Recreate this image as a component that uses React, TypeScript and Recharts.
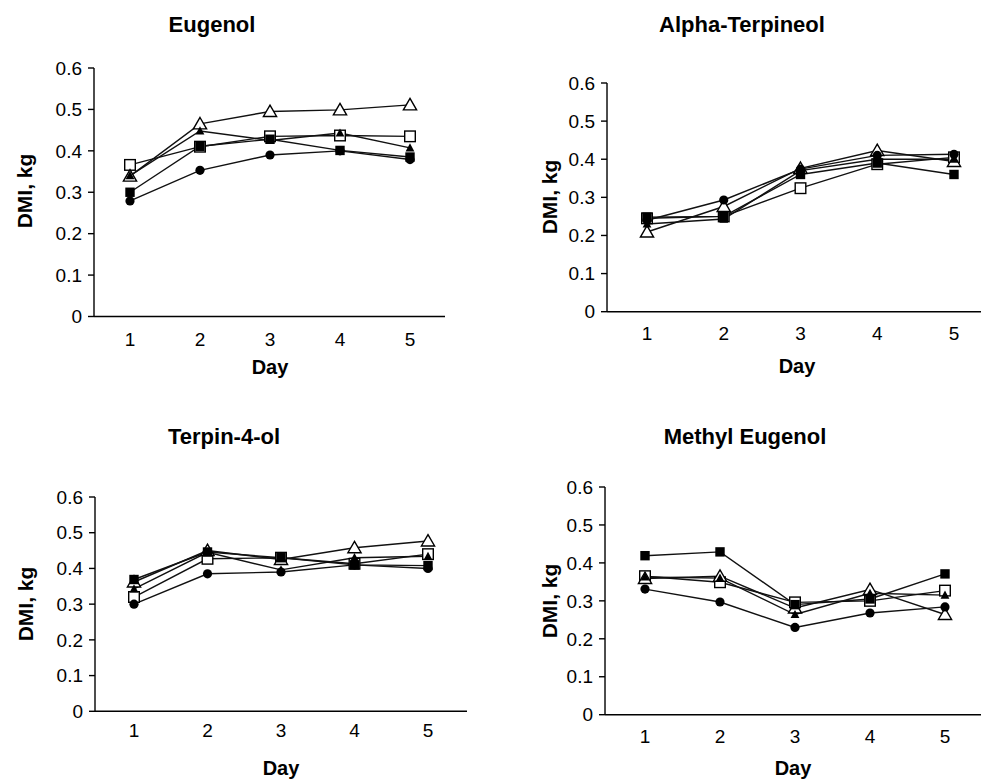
import React from "react"
import { LineChart, Line, XAxis, YAxis } from "recharts"

const days = [1, 2, 3, 4, 5]
const yTicks = [0, 0.1, 0.2, 0.3, 0.4, 0.5, 0.6]

// Eugenol
const eugFilledCircle = [0.279, 0.353, 0.39, 0.4, 0.379]
const eugFilledSquare = [0.3, 0.411, 0.428, 0.401, 0.385]
const eugFilledTriangle = [0.34, 0.448, 0.425, 0.443, 0.407]
const eugOpenSquare = [0.366, 0.41, 0.435, 0.437, 0.435]
const eugOpenTriangle = [0.339, 0.465, 0.495, 0.499, 0.511]

// Alpha-Terpineol
const atFilledCircle = [0.24, 0.293, 0.374, 0.41, 0.413]
const atFilledSquare = [0.248, 0.25, 0.36, 0.39, 0.36]
const atFilledTriangle = [0.23, 0.243, 0.37, 0.4, 0.4]
const atOpenSquare = [0.245, 0.25, 0.324, 0.387, 0.405]
const atOpenTriangle = [0.209, 0.276, 0.376, 0.423, 0.394]

// Terpin-4-ol
const t4FilledCircle = [0.3, 0.385, 0.39, 0.41, 0.4]
const t4FilledSquare = [0.369, 0.446, 0.43, 0.41, 0.408]
const t4FilledTriangle = [0.343, 0.445, 0.396, 0.43, 0.434]
const t4OpenSquare = [0.32, 0.427, 0.43, 0.413, 0.44]
const t4OpenTriangle = [0.362, 0.45, 0.425, 0.458, 0.477]

// Methyl Eugenol
const meFilledCircle = [0.331, 0.297, 0.23, 0.268, 0.284]
const meFilledSquare = [0.419, 0.429, 0.29, 0.305, 0.371]
const meFilledTriangle = [0.363, 0.36, 0.264, 0.32, 0.315]
const meOpenSquare = [0.365, 0.349, 0.296, 0.3, 0.327]
const meOpenTriangle = [0.359, 0.365, 0.281, 0.33, 0.264]

const FONT = "'Liberation Sans', Arial, Helvetica, sans-serif"

type Shape = "filledCircle" | "filledSquare" | "filledTriangle" | "openSquare" | "openTriangle"

function makeRows(fc: number[], fs: number[], ft: number[], os: number[], ot: number[]) {
    return days.map((d, i) => ({
        day: d,
        filledCircle: fc[i],
        filledSquare: fs[i],
        filledTriangle: ft[i],
        openSquare: os[i],
        openTriangle: ot[i],
    }))
}

const marker = (shape: Shape) => (props: any) => {
    const { cx, cy, index } = props
    const key = `${shape}-${index}`
    if (cx == null || cy == null) return <g key={key} />
    switch (shape) {
        case "filledCircle":
            return <circle key={key} cx={cx} cy={cy} r={4.6} fill="#000" />
        case "filledSquare":
            return <rect key={key} x={cx - 4.7} y={cy - 4.7} width={9.4} height={9.4} fill="#000" />
        case "openSquare":
            return <rect key={key} x={cx - 5.3} y={cy - 5.3} width={10.6} height={10.6} fill="#fff" stroke="#000" strokeWidth={1.4} />
        case "filledTriangle":
            return <path key={key} d={`M${cx},${cy - 4.6}L${cx + 4.4},${cy + 3.6}L${cx - 4.4},${cy + 3.6}Z`} fill="#000" />
        default:
            return <path key={key} d={`M${cx},${cy - 6.4}L${cx + 6.6},${cy + 5}L${cx - 6.6},${cy + 5}Z`} fill="#fff" stroke="#000" strokeWidth={1.4} />
    }
}

const seriesOrder: Shape[] = ["openSquare", "openTriangle", "filledSquare", "filledTriangle", "filledCircle"]

interface PanelProps {
    rows: any[]
    L: number
    R: number
    T: number
    B: number
    padL: number
    padR: number
    xTickGap: number
}

function Panel({ rows, L, R, T, B, padL, padR, xTickGap }: PanelProps) {
    const yW = 60
    const xH = 40
    const width = R - L + yW + 5
    const height = B - T + 10 + xH
    return (
        <div style={{ position: "absolute", left: L - yW, top: T - 10 }}>
            <LineChart width={width} height={height} data={rows} margin={{ top: 10, right: 5, left: 0, bottom: 0 }}>
                <XAxis
                    dataKey="day"
                    type="category"
                    padding={{ left: padL, right: padR }}
                    height={xH}
                    tickLine={false}
                    tickSize={6}
                    tickMargin={xTickGap}
                    axisLine={{ stroke: "#000", strokeWidth: 1.4 }}
                    tick={{ fill: "#000", fontSize: 19 }}
                />
                <YAxis
                    type="number"
                    domain={[0, 0.6]}
                    ticks={yTicks}
                    width={yW}
                    tickSize={6}
                    tickMargin={6}
                    interval={0}
                    axisLine={{ stroke: "#000", strokeWidth: 1.4 }}
                    tickLine={{ stroke: "#000", strokeWidth: 1.4 }}
                    tick={{ fill: "#000", fontSize: 19 }}
                    tickFormatter={(v: number) => (v === 0 ? "0" : v.toFixed(1))}
                />
                {seriesOrder.map(s => (
                    <Line
                        key={s}
                        dataKey={s}
                        stroke="#111"
                        strokeWidth={1.4}
                        dot={marker(s)}
                        activeDot={false}
                        isAnimationActive={false}
                    />
                ))}
            </LineChart>
        </div>
    )
}

function Label({ x, y, text, size, rotate }: { x: number; y: number; text: string; size: number; rotate?: boolean }) {
    return (
        <div
            style={{
                position: "absolute",
                left: x,
                top: y,
                transform: `translate(-50%, -50%)${rotate ? " rotate(-90deg)" : ""}`,
                fontSize: size,
                fontWeight: "bold",
                whiteSpace: "nowrap",
                lineHeight: 1,
                color: "#000",
            }}
        >
            {text}
        </div>
    )
}

export default function App() {
    return (
        <div
            style={{
                position: "absolute",
                left: 0,
                top: 0,
                width: 981,
                height: 780,
                overflow: "hidden",
                background: "#fff",
                fontFamily: FONT,
            }}
        >
            <Panel rows={makeRows(eugFilledCircle, eugFilledSquare, eugFilledTriangle, eugOpenSquare, eugOpenTriangle)}
                L={94} R={445} T={67.5} B={316} padL={36} padR={35} xTickGap={10} />
            <Panel rows={makeRows(atFilledCircle, atFilledSquare, atFilledTriangle, atOpenSquare, atOpenTriangle)}
                L={607} R={981} T={83.3} B={312} padL={40} padR={27} xTickGap={9} />
            <Panel rows={makeRows(t4FilledCircle, t4FilledSquare, t4FilledTriangle, t4OpenSquare, t4OpenTriangle)}
                L={95} R={467} T={496.7} B={711} padL={39} padR={39} xTickGap={6} />
            <Panel rows={makeRows(meFilledCircle, meFilledSquare, meFilledTriangle, meOpenSquare, meOpenTriangle)}
                L={605} R={981} T={487.3} B={715} padL={40} padR={36} xTickGap={9} />

            <Label x={212} y={25} text="Eugenol" size={22} />
            <Label x={742} y={25} text="Alpha-Terpineol" size={22} />
            <Label x={224} y={437} text="Terpin-4-ol" size={22} />
            <Label x={745} y={437} text="Methyl Eugenol" size={22} />

            <Label x={270} y={367} text="Day" size={20} />
            <Label x={797} y={366} text="Day" size={20} />
            <Label x={281} y={768} text="Day" size={20} />
            <Label x={793} y={768} text="Day" size={20} />

            <Label x={24} y={191} text="DMI, kg" size={21} rotate />
            <Label x={549} y={197} text="DMI, kg" size={21} rotate />
            <Label x={25} y={604} text="DMI, kg" size={21} rotate />
            <Label x={549} y={601} text="DMI, kg" size={21} rotate />
        </div>
    )
}
